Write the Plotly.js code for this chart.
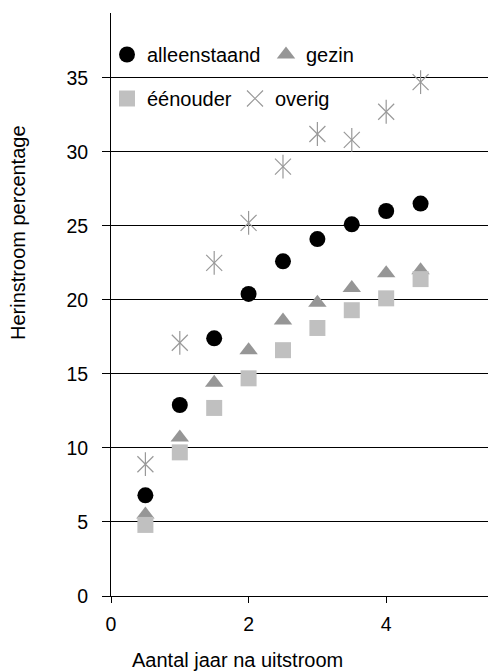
<!DOCTYPE html>
<html>
<head>
<meta charset="utf-8">
<script src="https://cdn.plot.ly/plotly-3.0.1.min.js"></script>
<style>html,body{margin:0;padding:0;background:#fff;}#chart{width:488px;height:671px;}</style>
</head>
<body>
<div id="chart"></div>
<script>
const years = [0.5, 1, 1.5, 2, 2.5, 3, 3.5, 4, 4.5];
const alleenstaand = [6.8, 12.9, 17.4, 20.4, 22.6, 24.1, 25.1, 26.0, 26.5];
const gezin = [5.5, 10.7, 14.4, 16.6, 18.6, 19.8, 20.8, 21.8, 22.0];
const eenouder = [4.8, 9.7, 12.7, 14.7, 16.6, 18.1, 19.3, 20.1, 21.4];
const overig = [8.9, 17.1, 22.5, 25.2, 29.0, 31.2, 30.8, 32.7, 34.7];
const seriesNames = ['alleenstaand', 'gezin', 'éénouder', 'overig'];
const xTitle = 'Aantal jaar na uitstroom';
const yTitle = 'Herinstroom percentage';

const FONT = 'Liberation Sans, Arial, sans-serif';
const FS = 19.5;
const FT = 20;

// plot-area pixel helpers for legend placement
const L = 111, W = 377, T = 13, H = 583;
const px = v => (v - L) / W;
const py = v => (T + H - v) / H;

const traces = [
  {x: years, y: alleenstaand, name: seriesNames[0], type: 'scatter', mode: 'markers',
   marker: {symbol: 'circle', size: 16, color: '#000000'}, legend: 'legend'},
  {x: years, y: gezin, name: seriesNames[1], type: 'scatter', mode: 'markers',
   marker: {symbol: 'triangle-up', size: 16, color: '#969696'}, legend: 'legend2'},
  {x: years, y: eenouder, name: seriesNames[2], type: 'scatter', mode: 'markers',
   marker: {symbol: 'square', size: 16, color: '#c0c0c0'}, legend: 'legend3'},
  {x: years, y: overig, name: seriesNames[3], type: 'scatter', mode: 'markers',
   marker: {symbol: 'x-thin-open', size: 16, color: '#999999', line: {color: '#999999', width: 1.2}},
   legend: 'legend4', legendgroup: 'ov'},
  {x: years, y: overig, name: seriesNames[3], type: 'scatter', mode: 'markers', showlegend: false,
   marker: {symbol: 'line-ns-open', size: 17, color: '#999999', line: {color: '#999999', width: 1.2}},
   legendgroup: 'ov'}
];

function leg(xPix, yPix) {
  return {
    orientation: 'v', x: px(xPix), xanchor: 'left', y: py(yPix), yanchor: 'top',
    bgcolor: 'rgba(0,0,0,0)', borderwidth: 0,
    font: {family: FONT, size: FT, color: '#000000'}
  };
}

const layout = {
  width: 488, height: 671,
  margin: {l: L, r: 0, t: T, b: 75},
  paper_bgcolor: '#ffffff', plot_bgcolor: '#ffffff',
  font: {family: FONT, size: FS, color: '#000000'},
  showlegend: true,
  hovermode: false,
  xaxis: {
    range: [0, 5.48], tick0: 0, dtick: 2,
    showgrid: false, zeroline: false,
    showline: true, linecolor: '#000000', linewidth: 1,
    ticks: 'outside', ticklen: 6, tickcolor: '#000000',
    ticklabelstandoff: 5,
    tickfont: {family: FONT, size: FS, color: '#000000'}
  },
  yaxis: {
    range: [0, 39.37], tick0: 0, dtick: 5,
    showgrid: true, gridcolor: '#000000', gridwidth: 1,
    zeroline: false,
    showline: true, linecolor: '#000000', linewidth: 1,
    ticks: 'outside', ticklen: 8, tickcolor: '#000000',
    ticklabelstandoff: 10,
    tickfont: {family: FONT, size: FS, color: '#000000'}
  },
  legend: leg(107, 35),
  legend2: leg(266, 35),
  legend3: leg(107, 79),
  legend4: leg(235, 79),
  annotations: [
    {text: xTitle, xref: 'paper', yref: 'paper', x: px(237), y: py(660),
     xanchor: 'center', yanchor: 'middle', showarrow: false,
     font: {family: FONT, size: FT, color: '#000000'}},
    {text: yTitle, xref: 'paper', yref: 'paper', x: px(18), y: py(233),
     xanchor: 'center', yanchor: 'middle', showarrow: false, textangle: -90,
     font: {family: FONT, size: FT, color: '#000000'}}
  ]
};

Plotly.newPlot('chart', traces, layout, {displayModeBar: false, staticPlot: true});
</script>
</body>
</html>
